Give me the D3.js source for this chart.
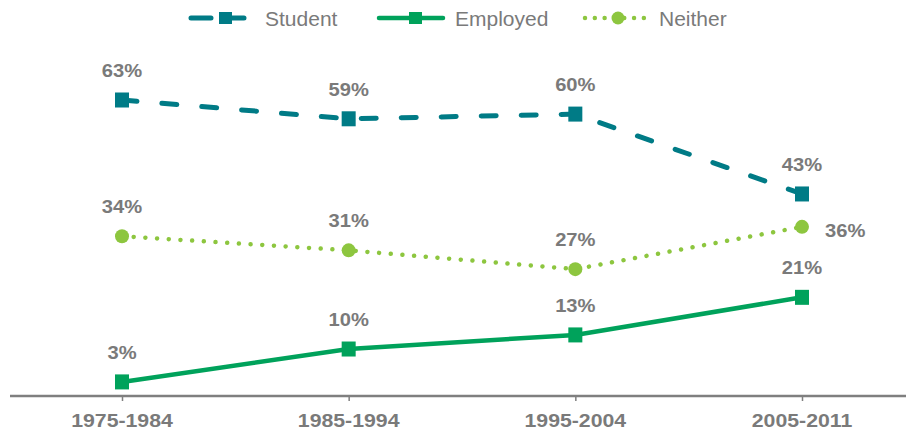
<!DOCTYPE html>
<html>
<head>
<meta charset="utf-8">
<script src="https://cdn.jsdelivr.net/npm/d3@7"></script>
<style>
  body { margin: 0; background: #fff; }
  text { font-family: Arial, "Liberation Sans", sans-serif; fill: #7a7a7a; }
</style>
</head>
<body>
<div class="lineCh"></div>
<script>
// data
const periods = ['1975-1984', '1985-1994', '1995-2004', '2005-2011']
const student = [63, 59, 60, 43]
const employed = [3, 10, 13, 21]
const neither = [34, 31, 27, 36]

const seriesNames = ['Student', 'Employed', 'Neither']
const seriesColors = ['#007b86', '#00a25b', '#8dc63f']

var width = 906, height = 434

var svg = d3.select(".lineCh")
  .append("svg")
  .attr("width", width)
  .attr("height", height)

var x = d3.scalePoint()
  .domain(periods)
  .range([122, 802])

var y = d3.scaleLinear()
  .domain([0, 63])
  .range([396, 100])

// x axis
var xAxis = svg.append("g")
  .attr("transform", "translate(0,396)")
  .call(d3.axisBottom(x).tickSize(5).tickPadding(0).tickFormat(""))
xAxis.select(".domain").remove()
xAxis.selectAll(".tick line").attr("stroke", "#7f7f7f").attr("stroke-width", 1.5)

svg.append("line")
  .attr("x1", 10).attr("x2", width)
  .attr("y1", 396).attr("y2", 396)
  .attr("stroke", "#7f7f7f")
  .attr("stroke-width", 2.5)

svg.selectAll(".xlab")
  .data(periods)
  .enter().append("text")
  .attr("class", "xlab")
  .attr("transform", d => "translate(" + x(d) + ",427) scale(1.15,1)")
  .attr("text-anchor", "middle")
  .style("font-size", "18.5px")
  .style("font-weight", "bold")
  .text(d => d)

const series = [
  {name: 'Student', values: student, color: seriesColors[0], dash: '15 25', width: 5, marker: 'square'},
  {name: 'Employed', values: employed, color: seriesColors[1], dash: null, width: 4.5, marker: 'square'},
  {name: 'Neither', values: neither, color: seriesColors[2], dash: '0.01 11.7', width: 4.5, marker: 'circle'}
]

var line = d3.line()
  .x((d, i) => x(periods[i]))
  .y(d => y(d))

function drawMarker(g, s, cx, cy) {
  if (s.marker == 'square') {
    g.append("rect")
      .attr("x", cx - 7).attr("y", cy - 7.5)
      .attr("width", 14).attr("height", 15)
      .attr("fill", s.color)
  } else {
    g.append("circle")
      .attr("cx", cx).attr("cy", cy)
      .attr("r", 7)
      .attr("fill", s.color)
  }
}

series.forEach(s => {
  var g = svg.append("g")
  g.append("path")
    .datum(s.values)
    .attr("d", line)
    .attr("fill", "none")
    .attr("stroke", s.color)
    .attr("stroke-width", s.width)
    .attr("stroke-linecap", "round")
    .attr("stroke-dasharray", s.dash)

  s.values.forEach((v, i) => drawMarker(g, s, x(periods[i]), y(v)))

  // value labels
  g.selectAll("text")
    .data(s.values)
    .enter().append("text")
    .attr("transform", (d, i) => {
      // last Neither label sits to the right of its point
      if (s.name == 'Neither' && i == 3) return "translate(" + (x(periods[i]) + 23) + "," + (y(d) + 10) + ") scale(1.12,1)"
      return "translate(" + x(periods[i]) + "," + (y(d) - 23) + ") scale(1.12,1)"
    })
    .attr("text-anchor", (d, i) => (s.name == 'Neither' && i == 3) ? "start" : "middle")
    .style("font-size", "18px")
    .style("font-weight", "bold")
    .text(d => d + "%")
})

// legend
const legendX = [189, 379, 583]
series.forEach((s, i) => {
  var lg = svg.append("g").attr("transform", "translate(" + legendX[i] + ",18)")
  lg.append("line")
    .attr("x1", s.dash ? 2 : 0).attr("x2", 64)
    .attr("stroke", s.color)
    .attr("stroke-width", s.width)
    .attr("stroke-linecap", "round")
    .attr("stroke-dasharray", s.name == 'Neither' ? '0.01 9.8' : (s.dash ? '20 13' : null))
  if (s.marker == 'square') {
    lg.append("rect").attr("x", 30).attr("y", -6).attr("width", 13).attr("height", 12).attr("fill", s.color)
  } else {
    lg.append("circle").attr("cx", 35).attr("cy", 0).attr("r", 6.5).attr("fill", s.color)
  }
  lg.append("text")
    .attr("x", 76).attr("y", 8)
    .style("font-size", "21px")
    .text(s.name)
})
</script>
</body>
</html>
